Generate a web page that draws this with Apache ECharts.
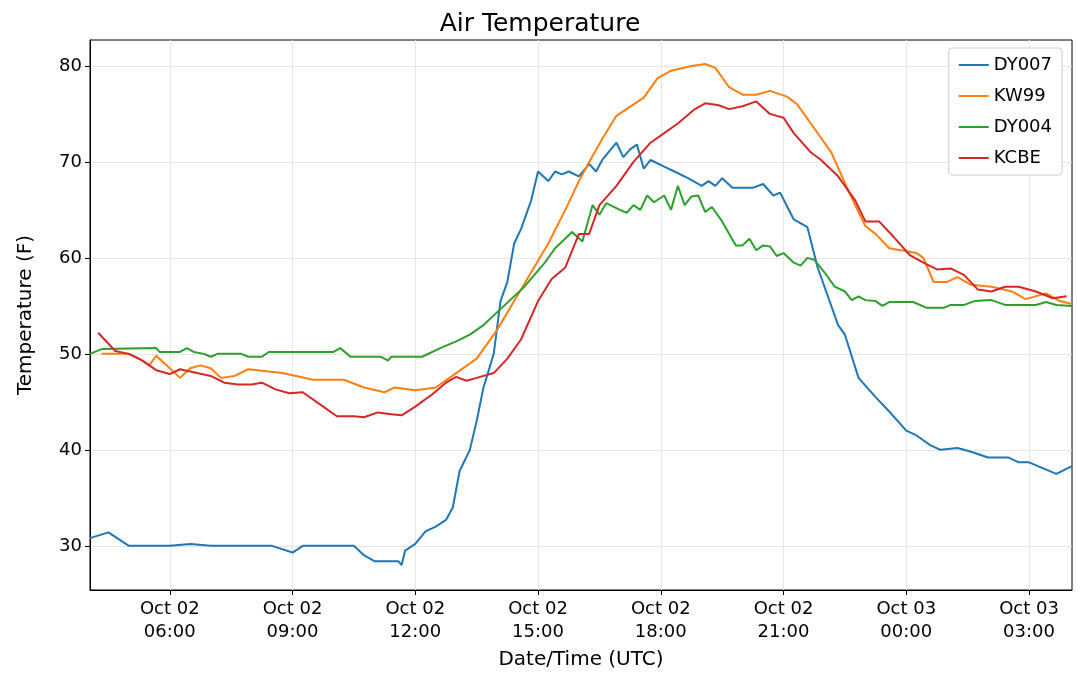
<!DOCTYPE html>
<html><head><meta charset="utf-8">
<script src="https://cdn.jsdelivr.net/npm/echarts@6/dist/echarts.min.js"></script>
<style>html,body{margin:0;padding:0;background:#fff}#c{width:1080px;height:679px}</style>
</head><body><div id="c"></div>
<script>
// times are UTC on Oct 02; hours below 04 roll over to Oct 03
var dy007T=["04:03","04:30","05:00","06:00","06:30","07:00","08:30","09:00","09:15","10:30","10:45","11:00","11:35","11:40","11:45","12:00","12:15","12:30","12:45","12:55","13:05","13:20","13:30","13:40","13:55","14:05","14:15","14:25","14:35","14:50","15:00","15:15","15:25","15:35","15:45","16:00","16:15","16:25","16:35","16:55","17:05","17:15","17:25","17:35","17:45","18:05","18:20","18:40","19:00","19:10","19:20","19:30","19:45","20:15","20:30","20:45","20:55","21:15","21:35","21:50","22:05","22:20","22:30","22:50","23:15","23:35","00:00","00:15","00:35","00:50","01:15","01:35","02:00","02:30","02:45","03:00","03:20","03:40","04:03"];
var dy007V=[30.8,31.4,30,30,30.2,30,30,29.3,30,30,29,28.4,28.4,28,29.5,30.2,31.5,32,32.7,34,37.8,40,43,46.5,50,55.5,57.5,61.5,63,66,69,68,69,68.7,69,68.5,69.8,69,70.3,72,70.5,71.3,71.8,69.3,70.2,69.5,69,68.3,67.5,68,67.5,68.3,67.3,67.3,67.7,66.5,66.8,64,63.2,59,56,53,52,47.5,45.5,44,42,41.5,40.5,40,40.2,39.8,39.2,39.2,38.7,38.7,38.1,37.5,38.3];
var kw99T=["04:20","05:00","05:15","05:30","05:40","06:00","06:15","06:30","06:45","07:00","07:15","07:35","07:55","08:45","09:30","10:15","10:45","11:15","11:30","12:00","12:30","13:00","13:30","14:00","14:25","14:50","15:15","15:40","16:00","16:15","16:35","16:55","17:35","17:55","18:15","18:45","19:05","19:20","19:40","20:00","20:20","20:40","21:05","21:20","21:40","22:10","22:35","23:00","23:15","23:35","00:15","00:25","00:40","01:00","01:15","01:35","02:05","02:35","02:55","03:25","03:45","04:03"];
var kw99V=[50,50,49.5,48.8,49.8,48.5,47.5,48.5,48.8,48.5,47.5,47.7,48.4,48,47.3,47.3,46.5,46,46.5,46.2,46.5,48,49.5,52.5,55.5,58.5,61.5,65,68,70,72.5,74.8,76.7,78.7,79.5,80,80.2,79.8,77.8,77,77,77.4,76.8,76,74,71,67,63.3,62.5,61,60.5,60,57.5,57.5,58,57.2,57,56.5,55.7,56.3,55.5,55.2];
var dy004T=["04:03","04:20","05:40","05:45","06:15","06:25","06:35","06:50","07:00","07:10","07:45","07:55","08:15","08:25","10:00","10:10","10:25","11:10","11:20","11:25","12:10","12:40","13:00","13:20","13:40","14:10","14:40","15:10","15:25","15:50","16:05","16:20","16:30","16:40","17:00","17:10","17:20","17:30","17:40","17:50","18:05","18:15","18:25","18:35","18:45","18:55","19:05","19:15","19:30","19:50","20:00","20:10","20:20","20:30","20:40","20:50","21:00","21:15","21:25","21:35","21:45","22:00","22:15","22:30","22:40","22:50","23:00","23:15","23:25","23:35","00:10","00:30","00:55","01:05","01:25","01:40","02:05","02:25","03:10","03:25","03:40","04:03"];
var dy004V=[50,50.5,50.6,50.2,50.2,50.6,50.2,50,49.7,50,50,49.7,49.7,50.2,50.2,50.6,49.7,49.7,49.3,49.7,49.7,50.7,51.3,52,53,55,57,59.5,61,62.7,61.7,65.5,64.5,65.7,65,64.7,65.5,65,66.5,65.8,66.5,65,67.5,65.5,66.4,66.5,64.8,65.3,63.8,61.3,61.3,62,60.8,61.3,61.2,60.2,60.5,59.5,59.2,60,59.8,58.5,57,56.5,55.6,56,55.6,55.5,55,55.4,55.4,54.8,54.8,55.1,55.1,55.5,55.6,55.1,55.1,55.4,55.1,55];
var kcbeT=["04:15","04:40","05:00","05:20","05:40","06:00","06:15","06:40","07:00","07:20","07:40","08:00","08:15","08:35","08:55","09:15","09:45","10:05","10:30","10:45","11:05","11:25","11:40","12:00","12:25","12:45","13:00","13:15","13:30","13:55","14:15","14:35","15:00","15:20","15:40","16:00","16:15","16:30","16:55","17:20","17:45","18:05","18:25","18:50","19:05","19:25","19:40","20:00","20:20","20:40","21:00","21:15","21:40","21:55","22:20","22:45","23:00","23:20","23:40","00:05","00:25","00:45","01:05","01:25","01:45","02:05","02:25","02:45","03:10","03:35","03:55"];
var kcbeV=[52.2,50.3,50,49.3,48.3,47.9,48.4,48,47.7,47,46.8,46.8,47,46.3,45.9,46,44.5,43.5,43.5,43.4,43.9,43.7,43.6,44.5,45.8,47,47.6,47.2,47.5,48,49.5,51.5,55.5,57.8,59,62.5,62.5,65.5,67.5,70,72,73,74,75.5,76.1,75.9,75.5,75.8,76.3,75,74.6,73,71,70.2,68.5,66,63.8,63.8,62.3,60.3,59.5,58.8,58.9,58.2,56.7,56.5,57,57,56.5,55.8,56];
var xTicks=[6,9,12,15,18,21,24,27];
var yTicks=[30,40,50,60,70,80];

function hrs(t){var p=t.split(":"),h=+p[0]+(+p[1])/60;return h<4?h+24:h;}
function pts(T,V){return T.map(function(t,i){var h=hrs(t);if(i===T.length-1&&t==="04:03")h=28.05;return [h,V[i]];});}
function mk(name,T,V,color){return {name:name,type:'line',data:pts(T,V),showSymbol:false,symbol:'none',lineStyle:{width:2,color:color},itemStyle:{color:color}};}

var chart=echarts.init(document.getElementById('c'));
var font='DejaVu Sans';
chart.setOption({
  animation:false,
  textStyle:{fontFamily:font},
  title:{text:'Air Temperature',left:'center',top:7,textStyle:{fontSize:25,fontWeight:'normal',color:'#000',fontFamily:font}},
  grid:{left:90,right:8,top:40,bottom:89,show:true,borderColor:'#000',borderWidth:1},
  legend:{right:18,top:48,orient:'vertical',itemWidth:30,itemHeight:2,itemGap:13,
    backgroundColor:'#fff',borderColor:'#ccc',borderWidth:1,borderRadius:3,padding:[8,10],
    textStyle:{fontSize:18,color:'#000',fontFamily:font},icon:'rect'},
  xAxis:{type:'value',min:4.05,max:28.05,name:'Date/Time (UTC)',nameLocation:'middle',nameGap:60,
    nameTextStyle:{fontSize:20,color:'#000'},
    axisLine:{lineStyle:{color:'#000'}},
    axisTick:{customValues:xTicks,lineStyle:{color:'#000'},length:5},
    axisLabel:{customValues:xTicks,fontSize:18,color:'#000',lineHeight:23,
      formatter:function(v){var d=v>=24?'Oct 03':'Oct 02';var h=v%24;return d+'\n'+(h<10?'0':'')+h+':00';}},
    splitLine:{show:true,lineStyle:{color:'#e6e6e6'}}},
  yAxis:{type:'value',min:25.4,max:82.7,name:'Temperature (F)',nameLocation:'middle',nameGap:54,
    nameTextStyle:{fontSize:20,color:'#000'},
    axisLine:{show:true,lineStyle:{color:'#000'}},
    axisTick:{show:true,customValues:yTicks,lineStyle:{color:'#000'},length:5},
    axisLabel:{customValues:yTicks,fontSize:18,color:'#000'},
    splitLine:{show:true,lineStyle:{color:'#e6e6e6'}}},
  series:[mk('DY007',dy007T,dy007V,'#1f77b4'),mk('KW99',kw99T,kw99V,'#ff7f0e'),mk('DY004',dy004T,dy004V,'#2ca02c'),mk('KCBE',kcbeT,kcbeV,'#d62728')]
});
</script></body></html>
